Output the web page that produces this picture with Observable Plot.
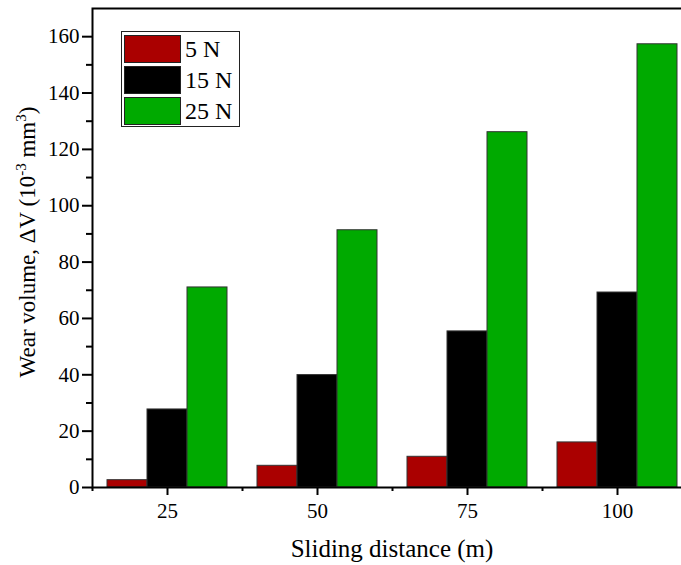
<!DOCTYPE html>
<html><head><meta charset="utf-8">
<script src="https://cdn.jsdelivr.net/npm/d3@7"></script>
<script src="https://cdn.jsdelivr.net/npm/@observablehq/plot@0.6"></script>
<style>
html,body{margin:0;padding:0;background:#fff;overflow:hidden}
#wrap{position:relative;width:681px;height:565px;overflow:hidden}
#wrap svg{overflow:hidden;max-width:none !important;width:692px !important;height:565px !important;font-family:'Liberation Serif','Times New Roman',serif !important}
</style></head><body><div id="wrap"></div>
<script>
const distances = ["25", "50", "75", "100"];
const loads = ["5 N", "15 N", "25 N"];
const wear5 = [2.6, 7.7, 10.9, 16.0];
const wear15 = [27.7, 39.9, 55.4, 69.2];
const wear25 = [71.0, 91.3, 126.1, 157.3];
const colors = ["#aa0000", "#000000", "#00aa00"];
const yTicks = [0, 20, 40, 60, 80, 100, 120, 140, 160];
const yMinor = [10, 30, 50, 70, 90, 110, 130, 150];
const yLabel = ["Wear volume, ΔV (10", "-3", " mm", "3", ")"];
const xLabel = "Sliding distance (m)";

const series = [wear5, wear15, wear25];
const font = "'Liberation Serif', 'Times New Roman', serif";

const barMarks = loads.map((load, j) =>
  Plot.barY(distances.map((d, i) => ({distance: d, load, value: series[j][i]})), {
    x: "distance", y: "value", fill: "load",
    stroke: "#333", strokeWidth: 1,
    insetLeft: j * 40, insetRight: (loads.length - 1 - j) * 40
  })
);

const chart = Plot.plot({
  width: 692, height: 565,
  marginLeft: 92, marginRight: 0, marginTop: 8, marginBottom: 78,
  style: {fontFamily: font, color: "#000", background: "#fff"},
  x: {type: "band", domain: distances, paddingInner: 0.2, paddingOuter: 0.1, axis: null},
  y: {domain: [0, 170], axis: null},
  color: {domain: loads, range: colors},
  marks: [
    ...barMarks,
    Plot.frame({stroke: "#000", strokeWidth: 2}),
    Plot.axisY({ticks: yTicks, tickSize: 10, tickPadding: 3, fontSize: 21, fontFamily: font, strokeWidth: 2, label: null}),
    Plot.axisY({ticks: yMinor, tickSize: 6, text: null, strokeWidth: 2, label: null}),
    Plot.axisX({tickSize: 8, tickPadding: 8, fontSize: 21, fontFamily: font, strokeWidth: 2, label: null}),
    Plot.ruleX(distances, {x: d => d, dx: -75, y1: 0, y2: 0, insetBottom: -4, stroke: "#000", strokeWidth: 2})
  ]
});

document.getElementById("wrap").appendChild(chart);

const svg = d3.select(chart);
const color = chart.scale("color");

// y axis title
const yt = svg.append("text")
  .attr("transform", "translate(35,242) rotate(-90)")
  .attr("text-anchor", "middle")
  .attr("font-size", 23).attr("fill", "#000");
yLabel.forEach((s, i) => {
  const t = yt.append("tspan").text(s);
  if (i === 1 || i === 3) t.attr("font-size", 15).attr("dy", -9);
  if (i === 2 || i === 4) t.attr("dy", 9);
});

// x axis title
svg.append("text")
  .attr("x", 392).attr("y", 557)
  .attr("text-anchor", "middle")
  .attr("font-size", 25).attr("fill", "#000")
  .text(xLabel);

// legend
const lg = svg.append("g");
lg.append("rect").attr("x", 121.5).attr("y", 31.5).attr("width", 118).attr("height", 95)
  .attr("fill", "#fff").attr("stroke", "#222").attr("stroke-width", 1);
loads.forEach((l, j) => {
  lg.append("rect").attr("x", 124.5).attr("y", 35.5 + 31 * j).attr("width", 56).attr("height", 27)
    .attr("fill", color.apply(l)).attr("stroke", "#222").attr("stroke-width", 1);
  lg.append("text").attr("x", 185).attr("y", 49 + 31 * j).attr("dy", "0.35em")
    .attr("text-anchor", "start")
    .attr("font-size", 24).attr("fill", "#000").text(l);
});

svg.selectAll("text").attr("font-family", font);
</script></body></html>
